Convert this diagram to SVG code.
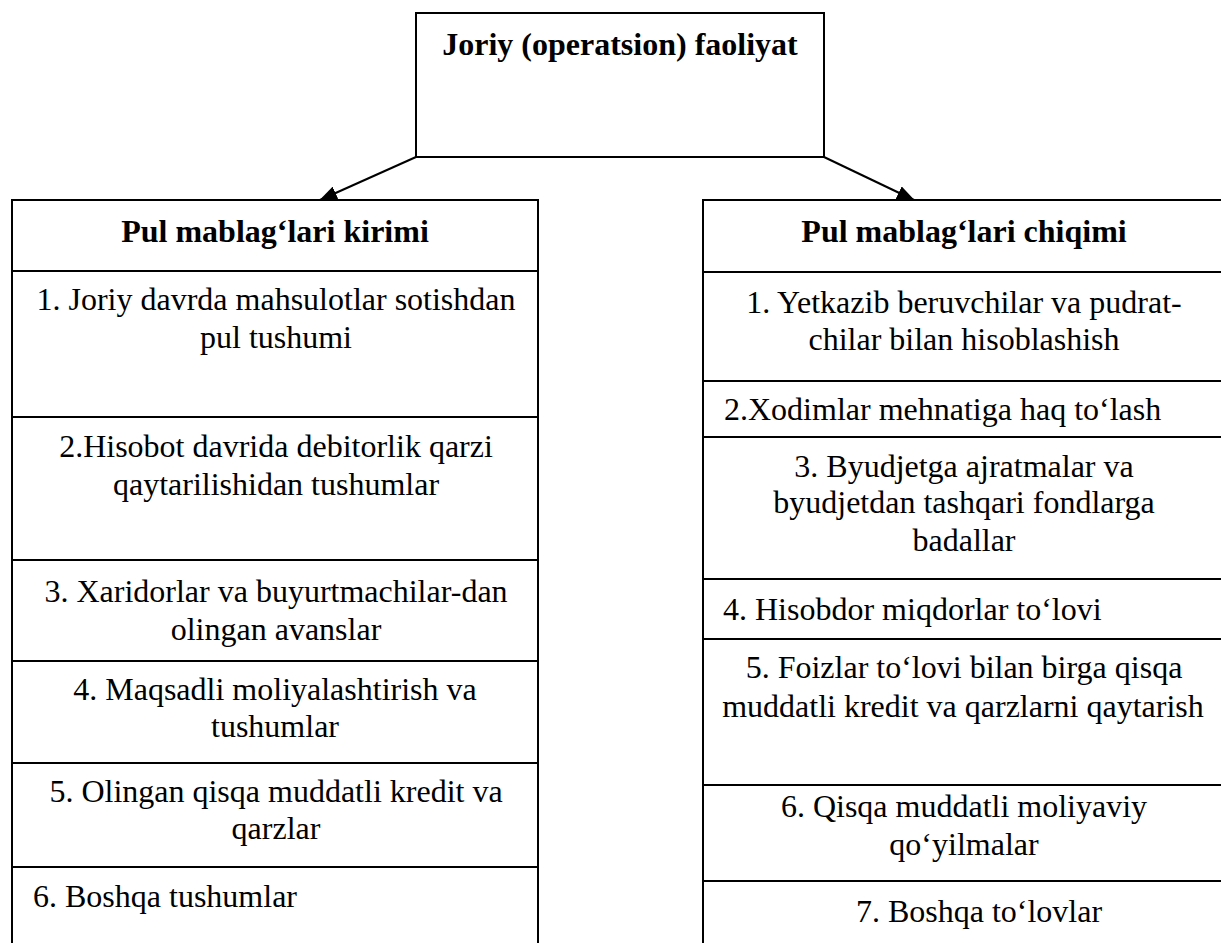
<svg xmlns="http://www.w3.org/2000/svg" width="1221" height="943" viewBox="0 0 1221 943">
<style>
.box{fill:#fff;stroke:#000;stroke-width:2}
.t{font-family:"Liberation Serif","Times New Roman",serif;font-size:32px;fill:#000}
.b{font-weight:bold}
.c{text-anchor:middle}
.con{stroke:#000;stroke-width:2;fill:none}
</style>
<defs>
<marker id="ah" markerUnits="userSpaceOnUse" markerWidth="18" markerHeight="14" refX="17" refY="7" orient="auto">
<path d="M0,0 L18,7 L0,14 z" fill="#000"/>
</marker>
</defs>
<rect width="1221" height="943" fill="#fff"/>
<g id="connectors">
<line class="con" x1="416" y1="157" x2="320" y2="200" marker-end="url(#ah)"/>
<line class="con" x1="824" y1="157" x2="914" y2="200" marker-end="url(#ah)"/>
</g>
<g id="top">
<rect class="box" x="416" y="13" width="408" height="144"/>
<text class="t b c" x="620" y="55">Joriy (operatsion) faoliyat</text>
</g>
<g id="left">
<g id="left-header"><rect class="box" x="12" y="200" width="526" height="71"/><text class="t b c" x="275" y="242">Pul mablag‘lari kirimi</text></g>
<g id="left-1"><rect class="box" x="12" y="271" width="526" height="146"/><text class="t c" x="276" y="310">1. Joriy davrda mahsulotlar sotishdan</text><text class="t c" x="276" y="348">pul tushumi</text></g>
<g id="left-2"><rect class="box" x="12" y="417" width="526" height="143"/><text class="t c" x="276" y="457">2.Hisobot davrida debitorlik qarzi</text><text class="t c" x="276" y="495">qaytarilishidan tushumlar</text></g>
<g id="left-3"><rect class="box" x="12" y="560" width="526" height="101"/><text class="t c" x="276" y="602">3. Xaridorlar va buyurtmachilar-dan</text><text class="t c" x="276" y="640">olingan avanslar</text></g>
<g id="left-4"><rect class="box" x="12" y="661" width="526" height="102"/><text class="t c" x="275" y="700">4. Maqsadli moliyalashtirish va</text><text class="t c" x="275" y="737">tushumlar</text></g>
<g id="left-5"><rect class="box" x="12" y="763" width="526" height="104"/><text class="t c" x="276" y="802">5. Olingan qisqa muddatli kredit va</text><text class="t c" x="276" y="839">qarzlar</text></g>
<g id="left-6"><rect class="box" x="12" y="867" width="526" height="90"/><text class="t" x="33" y="907">6. Boshqa tushumlar</text></g>
</g>
<g id="right">
<g id="right-header"><rect class="box" x="703" y="200" width="530" height="72"/><text class="t b c" x="964" y="242">Pul mablag‘lari chiqimi</text></g>
<g id="right-1"><rect class="box" x="703" y="272" width="530" height="109"/><text class="t c" x="964" y="313">1. Yetkazib beruvchilar va pudrat-</text><text class="t c" x="964" y="350">chilar bilan hisoblashish</text></g>
<g id="right-2"><rect class="box" x="703" y="381" width="530" height="56"/><text class="t" x="724" y="420">2.Xodimlar mehnatiga haq to‘lash</text></g>
<g id="right-3"><rect class="box" x="703" y="437" width="530" height="142"/><text class="t c" x="964" y="477">3. Byudjetga ajratmalar va</text><text class="t c" x="964" y="513">byudjetdan tashqari fondlarga</text><text class="t c" x="964" y="551">badallar</text></g>
<g id="right-4"><rect class="box" x="703" y="579" width="530" height="60"/><text class="t" x="723" y="620">4. Hisobdor miqdorlar to‘lovi</text></g>
<g id="right-5"><rect class="box" x="703" y="639" width="530" height="146"/><text class="t c" x="964" y="678">5. Foizlar to‘lovi bilan birga qisqa</text><text class="t c" x="963" y="717">muddatli kredit va qarzlarni qaytarish</text></g>
<g id="right-6"><rect class="box" x="703" y="785" width="530" height="96"/><text class="t c" x="964" y="817">6. Qisqa muddatli moliyaviy</text><text class="t c" x="964" y="855">qo‘yilmalar</text></g>
<g id="right-7"><rect class="box" x="703" y="881" width="530" height="76"/><text class="t c" x="979" y="922">7. Boshqa to‘lovlar</text></g>
</g>
</svg>
